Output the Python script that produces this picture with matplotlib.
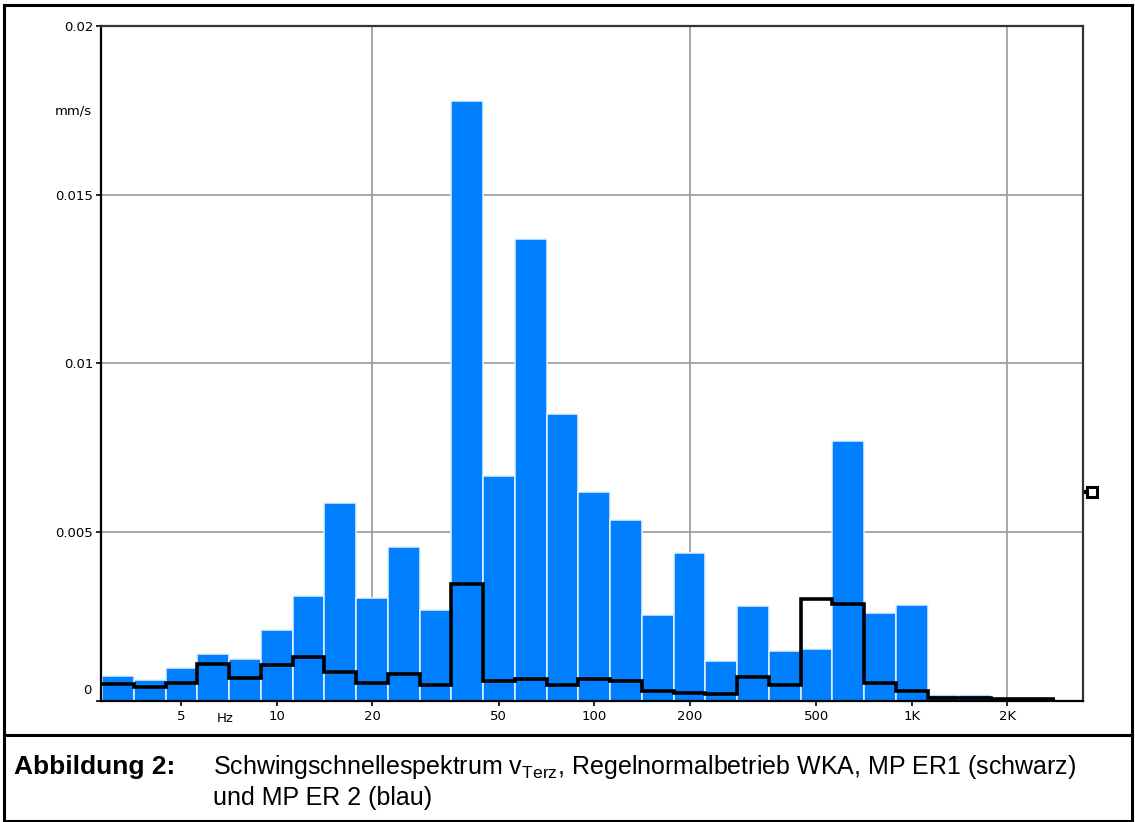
import matplotlib
matplotlib.use("Agg")
import matplotlib.pyplot as plt
import matplotlib.transforms as mtransforms
from matplotlib.lines import Line2D
import numpy as np

# Third-octave band centre frequencies (Hz)
freqs = [3.15, 4, 5, 6.3, 8, 10, 12.5, 16, 20, 25, 31.5, 40, 50, 63, 80, 100,
         125, 160, 200, 250, 315, 400, 500, 630, 800, 1000, 1250, 1600, 2000, 2500]

# MP ER 2 (blue bars), mm/s
er2 = [0.00072, 0.00062, 0.00097, 0.00137, 0.00122, 0.00208, 0.00310, 0.00586,
       0.00304, 0.00454, 0.00268, 0.01780, 0.00666, 0.01368, 0.00851, 0.00620,
       0.00535, 0.00253, 0.00439, 0.00117, 0.00279, 0.00148, 0.00153, 0.00770,
       0.00259, 0.00283, 0.00016, 0.00017, 0.00002, 0.00001]

# MP ER1 (black step line), mm/s
er1 = [0.00048, 0.00041, 0.00053, 0.00108, 0.00068, 0.00106, 0.00128, 0.00084,
       0.00053, 0.00078, 0.00046, 0.00345, 0.00059, 0.00064, 0.00046, 0.00064,
       0.00058, 0.00028, 0.00023, 0.00019, 0.00070, 0.00045, 0.00300, 0.00285,
       0.00051, 0.00029, 0.00007, 0.00006, 0.00004, 0.00003]

total_er2 = 0.0062  # overall level marker on the right axis

xticks = [5, 10, 20, 50, 100, 200, 500, 1000, 2000]
xticklabels = ["5", "10", "20", "50", "100", "200", "500", "1K", "2K"]
yticks = [0, 0.005, 0.01, 0.015, 0.02]
yticklabels = ["", "0.005", "0.01", "0.015", "0.02"]

# exact band centres and edges on the log axis
band = np.round(10 * np.log10(freqs))
edges = 10 ** ((np.append(band, band[-1] + 1) - 0.5) / 10)

fig = plt.figure(figsize=(11.35, 8.22), dpi=100)
ax = fig.add_axes([0.089, 0.1478, 0.8652, 0.8201])

ax.bar(edges[:-1], er2, width=np.diff(edges), align="edge",
       color="#0080ff", edgecolor="#e8f2ff", linewidth=1.1, zorder=2)
ax.stairs(er1, edges, baseline=None, color="black", linewidth=2.6, zorder=3)

ax.set_xscale("log")
ax.set_xlim(10 ** 0.4466, 10 ** 3.5395)
ax.set_ylim(0, 0.02)

for f in [20, 200, 2000]:
    ax.axvline(f, color="#a0a0a0", linewidth=1.3, zorder=1)
for v in [0.005, 0.01, 0.015]:
    ax.axhline(v, color="#a0a0a0", linewidth=1.3, zorder=1)

ax.set_xticks(xticks)
ax.set_xticklabels(xticklabels)
ax.xaxis.set_minor_locator(matplotlib.ticker.NullLocator())
ax.set_yticks(yticks)
ax.set_yticklabels(yticklabels)
ax.tick_params(axis="both", direction="out", length=3.6, width=1.2,
               labelsize=9.5, color="black")
ax.tick_params(axis="x", pad=3)
ax.tick_params(axis="y", pad=2)

for side in ["left", "bottom"]:
    ax.spines[side].set_linewidth(1.6)
for side in ["top", "right"]:
    ax.spines[side].set_linewidth(1.6)
    ax.spines[side].set_color("#333333")

# zero label sits slightly above its tick
ax.annotate("0", xy=(0, 0), xycoords=("axes fraction", "data"),
            xytext=(-6.5, 7), textcoords="offset points",
            ha="right", va="center", fontsize=9.5)
ax.annotate("mm/s", xy=(0, 0.0175), xycoords=("axes fraction", "data"),
            xytext=(-6.5, 0), textcoords="offset points",
            ha="right", va="center", fontsize=9.5)
ax.annotate("Hz", xy=(6.9, 0), xycoords=("data", "axes fraction"),
            xytext=(0, -13), textcoords="offset points",
            ha="center", va="center", fontsize=9.5)

# overall level marker
mark = mtransforms.blended_transform_factory(ax.transAxes, ax.transData)
ax.plot([1.0, 1.006], [total_er2, total_er2], color="black", linewidth=3,
        transform=mark, clip_on=False, solid_capstyle="butt")
ax.plot([1.0095], [total_er2], marker="s", markersize=7, markerfacecolor="white",
        markeredgecolor="black", markeredgewidth=2.2, transform=mark, clip_on=False)

# outer frame and caption separator
def fig_line(x, y):
    fig.add_artist(Line2D(np.array(x) / 1135, 1 - np.array(y) / 822,
                          color="black", linewidth=2.2, transform=fig.transFigure))

fig_line([4, 4], [5, 822])
fig_line([4, 1132], [5.5, 5.5])
fig_line([1132, 1132], [5, 822])
fig_line([4, 1132], [735, 735])
fig_line([4, 1132], [821, 821])

cap_font = ["Liberation Sans Narrow", "Liberation Sans", "DejaVu Sans"]
fig.text(14 / 1135, 1 - 767 / 822, "Abbildung 2:", family=cap_font,
         fontweight="bold", fontsize=19, ha="left", va="center")
fig.text(213 / 1135, 1 - 767 / 822,
         r"Schwingschnellespektrum v$_{\mathregular{Terz}}$, Regelnormalbetrieb WKA, MP ER1 (schwarz)",
         family=cap_font, fontsize=18, ha="left", va="center")
fig.text(213 / 1135, 1 - 798 / 822, "und MP ER 2 (blau)", family=cap_font,
         fontsize=18, ha="left", va="center")

fig.savefig("out.png", dpi=100)
